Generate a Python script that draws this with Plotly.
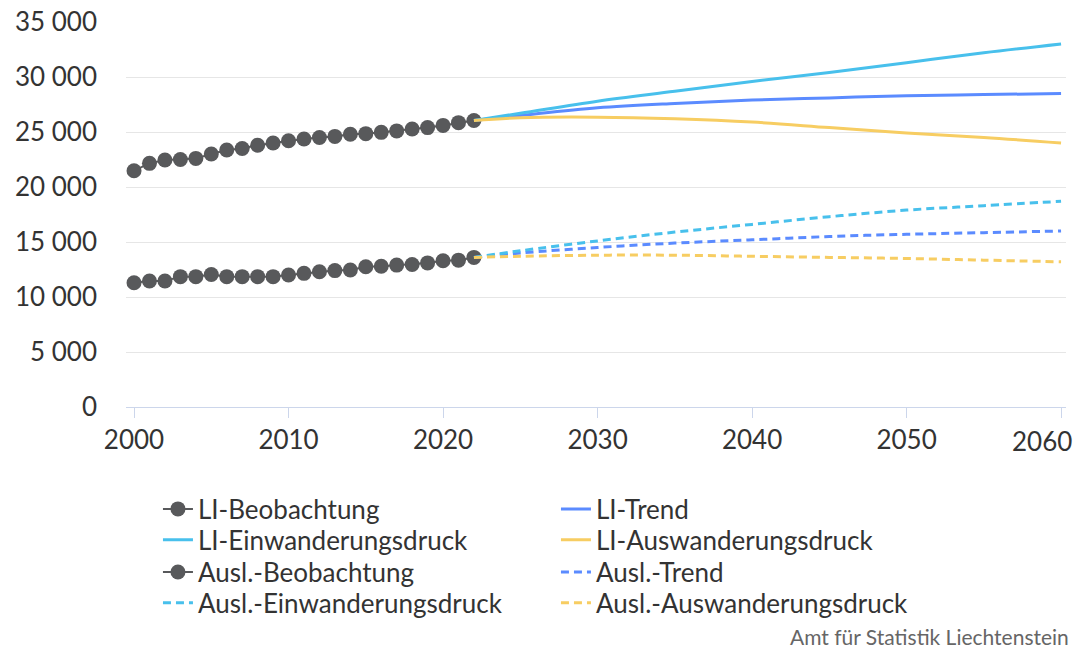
import plotly.graph_objects as go

# Beobachtung 2000-2022
obs_years = list(range(2000, 2023))
li_obs = [21480, 22150, 22450, 22500, 22600, 23000, 23360, 23500, 23800, 24000,
          24200, 24360, 24500, 24600, 24800, 24850, 24970, 25100, 25270, 25400,
          25600, 25850, 26050]
ausl_obs = [11300, 11450, 11450, 11850, 11850, 12050, 11850, 11850, 11850, 11850,
            12000, 12150, 12300, 12400, 12450, 12750, 12800, 12900, 12950, 13100,
            13300, 13350, 13600]

# Szenarien 2022-2060
proj_years = [2022, 2025, 2030, 2035, 2040, 2045, 2050, 2055, 2060]
li_trend = [26050, 26500, 27200, 27600, 27900, 28100, 28300, 28400, 28500]
li_ein = [26050, 26700, 27800, 28700, 29600, 30400, 31300, 32200, 33000]
li_aus = [26050, 26300, 26350, 26200, 25900, 25400, 24900, 24500, 24000]
ausl_trend = [13600, 14000, 14500, 14900, 15200, 15500, 15700, 15850, 16000]
ausl_ein = [13600, 14200, 15100, 15900, 16600, 17300, 17900, 18300, 18700]
ausl_aus = [13600, 13700, 13800, 13800, 13700, 13600, 13500, 13350, 13200]

x_ticks = [2000, 2010, 2020, 2030, 2040, 2050, 2060]

GRAY = "#58595b"
CYAN = "#48c0ec"
BLUE = "#5b8bff"
YELLOW = "#f7cd62"
FONT = "Lato"
TXT = "#333333"
DASH = "8px,5px"

fig = go.Figure()

def obs(name, y, leg):
    fig.add_trace(go.Scatter(x=obs_years, y=y, name=name, mode="lines+markers",
                             line=dict(color=GRAY, width=2),
                             marker=dict(size=15, color=GRAY), legend=leg))

def proj(name, y, color, dash, leg):
    fig.add_trace(go.Scatter(x=proj_years, y=y, name=name, mode="lines",
                             line=dict(color=color, width=3, dash=dash, shape="spline"),
                             legend=leg))

# one legend per row, two columns each
obs("LI-Beobachtung", li_obs, "legend")
proj("LI-Trend", li_trend, BLUE, "solid", "legend")
proj("LI-Einwanderungsdruck", li_ein, CYAN, "solid", "legend2")
proj("LI-Auswanderungsdruck", li_aus, YELLOW, "solid", "legend2")
obs("Ausl.-Beobachtung", ausl_obs, "legend3")
proj("Ausl.-Trend", ausl_trend, BLUE, DASH, "legend3")
proj("Ausl.-Einwanderungsdruck", ausl_ein, CYAN, DASH, "legend4")
proj("Ausl.-Auswanderungsdruck", ausl_aus, YELLOW, DASH, "legend4")

def row_legend(y):
    return dict(orientation="h", x=0.034, y=y, xanchor="left", yanchor="middle",
                entrywidth=353, entrywidthmode="pixels", itemwidth=30,
                bgcolor="rgba(0,0,0,0)", font=dict(family=FONT, size=26, color=TXT))

# last x label sits left of the plot edge (it would overflow otherwise)
tick_text = [str(t) for t in x_ticks[:-1]] + [""]

# page body adds 8px, so the figure is 8px smaller than the window
fig.update_layout(
    width=1074, height=640,
    margin=dict(l=118, r=16, t=14, b=241, autoexpand=False),
    plot_bgcolor="white", paper_bgcolor="white",
    font=dict(family=FONT, size=26, color=TXT),
    separators=". ",
    showlegend=True,
    legend=row_legend(-0.265),
    legend2=row_legend(-0.345),
    legend3=row_legend(-0.429),
    legend4=row_legend(-0.509),
    annotations=[
        dict(text=str(x_ticks[-1]), xref="paper", yref="paper", x=1.008, y=-0.088,
             xanchor="right", yanchor="middle", showarrow=False,
             font=dict(family=FONT, size=26, color=TXT)),
        dict(text="Amt für Statistik Liechtenstein", xref="paper", yref="paper",
             x=1.005, y=-0.595, xanchor="right", yanchor="middle", showarrow=False,
             font=dict(family=FONT, size=21, color="#666666")),
    ],
)
fig.update_xaxes(range=[1999.48, 2060.32], tickvals=x_ticks, ticktext=tick_text,
                 showgrid=False, showline=True, linecolor="#ccd6eb", linewidth=1,
                 ticks="outside", tickcolor="#ccd6eb", ticklen=10, zeroline=False,
                 automargin=False)
fig.update_yaxes(range=[0, 35000], dtick=5000, tickformat=",d", gridcolor="#e6e6e6",
                 zeroline=False, ticks="", ticklabelstandoff=28, automargin=False,
                 ticklabeloverflow="allow")

fig.write_html("out.html")
